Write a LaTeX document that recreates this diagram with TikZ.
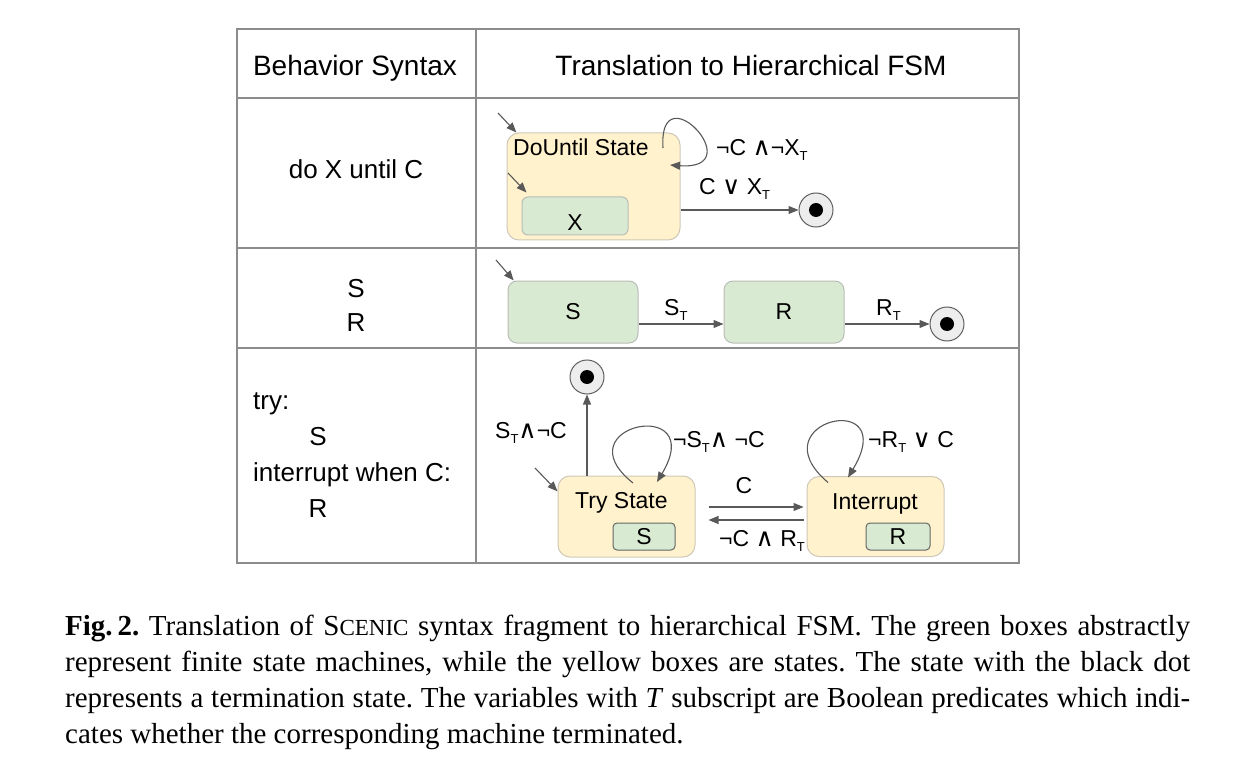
\documentclass[tikz,border=0pt]{standalone}
\usepackage{fontspec}
\setmainfont{Liberation Serif}
\setsansfont{Liberation Sans}
\newfontfamily\symfont{DejaVu Sans}
\usepackage{tikz}
\usetikzlibrary{arrows.meta,positioning}
\definecolor{yfill}{HTML}{FFF2CC}
\definecolor{ybord}{HTML}{CFC8B8}
\definecolor{gfill}{HTML}{D9EAD3}
\definecolor{gbord}{HTML}{B9BDB7}
\definecolor{sbord}{HTML}{666666}
\definecolor{arrgray}{HTML}{595959}
\definecolor{rulegray}{HTML}{8C8C8C}
\newcommand\hdfont{\sffamily\fontsize{28}{32}\selectfont}
\newcommand\tblfont{\sffamily\fontsize{26}{30}\selectfont}
\newcommand\fsmfont{\sffamily\fontsize{23}{27}\selectfont}
\newcommand\capfont{\rmfamily\fontsize{29}{35.8}\selectfont}
\newcommand\tsub{\raisebox{-5pt}{\fontsize{13}{13}\selectfont T}}
\newcommand\andsym{{\symfont\fontsize{25}{25}\selectfont ∧}}
\newcommand\orsym{{\symfont\fontsize{25}{25}\selectfont ∨}}

\begin{document}
\begin{tikzpicture}[
  x=1pt, y=-1pt,
  cell/.style={font=\tblfont, anchor=base, inner sep=0pt},
  lbl/.style={font=\fsmfont, anchor=base west, inner sep=0pt},
  ystate/.style={draw=ybord, fill=yfill, line width=1pt, rounded corners=12pt},
  mach/.style={draw=gbord, fill=gfill, line width=1pt, rounded corners=9pt,
               font=\fsmfont},
  inmach/.style={draw=sbord, fill=gfill, line width=1pt, rounded corners=4pt,
                 font=\fsmfont},
  term/.style={circle, draw=gray!75!black, fill=gray!14, line width=1pt,
               minimum size=34pt, inner sep=0pt,
               path picture={\fill[black] (path picture bounding box.center) circle (7pt);}},
  arr/.style={-{Triangle[length=10pt,width=8pt]}, draw=arrgray, line width=1.1pt},
  grid/.style={draw=rulegray, line width=1.4pt},
  caption/.style={anchor=north west, text width=1125pt, align=justify,
                  inner sep=0pt, font=\capfont}
]
\useasboundingbox[fill=white] (0,0) rectangle (1236,759);
\draw[grid] (237,29) rectangle (1019,563);
\draw[grid] (476,29) -- (476,563);
\foreach \y in {98,248,348}
  \draw[grid] (237,\y) -- (1019,\y);

\node[cell, font=\hdfont] (hsyn) at (355,76) {Behavior Syntax};
\node[cell, font=\hdfont] (hfsm) at (751,76) {Translation to Hierarchical FSM};
\node[cell] (sdo)  at (356,179) {do X until C};
\node[cell] (sseqs) at (356,297) {S};
\node[cell] (sseqr) at (356,331) {R};
\node[cell, anchor=base west] (stry) at (253,409) {try:};
\node[cell] (strys) at (318,445) {S};
\node[cell, anchor=base west] (sint) at (253,481) {interrupt when C:};
\node[cell] (sintr) at (318,517) {R};

\node[ystate, minimum width=173pt, minimum height=107pt] (dou) at (593.5,186.5) {};
\node[lbl] (doutxt) at (513,156) {DoUntil State};
\node[mach, rounded corners=6pt, minimum width=106pt, minimum height=38pt] (xm) at (575,216) {};
\node[lbl, anchor=base] (xtxt) at (575,231) {X};
\node[term] (t1) at (816,210) {};
\coordinate (in1) at (498,113);
\coordinate (in2) at (508,173);
\draw[arr] (in1) -- (dou.145);
\draw[arr] (in2) -- ([xshift=5pt,yshift=4pt]xm.north west);
\draw[arr] ([xshift=69.5pt,yshift=38.5pt]dou.center) .. controls +(-5,-78) and +(82,6) .. ([xshift=76.5pt,yshift=21.5pt]dou.center);
\draw[arr] (dou.east |- t1) -- (t1);
\node[lbl] (l1a) at (716,156) {¬C \andsym¬X\tsub};
\node[lbl] (l1b) at (699,195) {C \orsym\ X\tsub};

\node[mach, minimum width=130pt, minimum height=62pt] (sm) at (573,312) {S};
\node[mach, minimum width=120pt, minimum height=62pt, right=85pt of sm] (rm) {R};
\node[term] (t2) at (947,324) {};
\coordinate (in3) at (496,260);
\draw[arr] (in3) -- (sm.152);
\draw[arr] (sm.east |- t2) -- (rm.west |- t2);
\draw[arr] (rm.east |- t2) -- (t2);
\node[lbl] (lst) at (664,315) {S\tsub};
\node[lbl] (lrt) at (876,315) {R\tsub};

\node[ystate, minimum width=137pt, minimum height=81pt] (try) at (626.5,516.5) {};
\node[lbl] (trytxt) at (575,508) {Try State};
\node[inmach, minimum width=62pt, minimum height=27pt] (trys) at (644,536.5) {S};
\node[ystate, minimum width=137pt, minimum height=80pt, right=111pt of try] (int) {};
\node[lbl] (inttxt) at (832,509) {Interrupt};
\node[inmach, minimum width=64pt, minimum height=27pt] (intr) at (898,536.5) {R};
\node[term] (t3) at (587,377) {};
\coordinate (in4) at (535,468);
\draw[arr] (in4) -- (try.160);
\draw[arr] (try.north -| t3) -- (t3);
\draw[arr] ([xshift=6.5pt,yshift=33.5pt]try.center) .. controls +(-73,-58) and +(52,-87) .. ([xshift=30.5pt,yshift=34.5pt]try.center);
\draw[arr] ([xshift=-47.5pt,yshift=34pt]int.center) .. controls +(-73,-62) and +(54,-90) .. ([xshift=-27.5pt,yshift=39pt]int.center);
\draw[arr] ([xshift=13pt,yshift=9.5pt]try.east) -- ([xshift=-3pt,yshift=9.5pt]int.west);
\draw[arr] ([xshift=-3pt,yshift=-3.5pt]int.west) -- ([xshift=13pt,yshift=-3.5pt]try.east);
\node[lbl] (lt1) at (495,438) {S\tsub\andsym¬C};
\node[lbl] (lt2) at (673,447) {¬S\tsub\andsym\ ¬C};
\node[lbl] (lt3) at (868,447) {¬R\tsub\ \orsym\ C};
\node[lbl, anchor=base] (lt4) at (744,493) {C};
\node[lbl] (lt5) at (719,546) {¬C \andsym\ R\tsub};

\node[caption] (cap) at (65,615) {\frenchspacing\tolerance=9999\hyphenpenalty=10000
  \textbf{Fig.\,2.} Translation of S{\fontsize{23}{23}\selectfont CENIC} syntax fragment to hierarchical FSM. The green boxes abstractly\linebreak
  represent finite state machines, while the yellow boxes are states. The state with the black dot\linebreak
  represents a termination state. The variables with \textit{T} subscript are Boolean predicates which indi-\linebreak
  cates whether the corresponding machine terminated.};
\end{tikzpicture}
\end{document}
